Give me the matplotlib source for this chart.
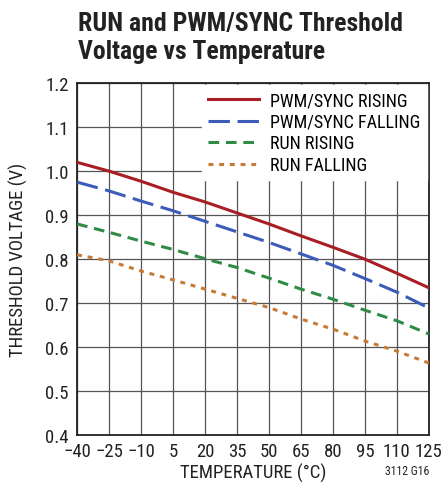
import matplotlib
matplotlib.use("Agg")
import matplotlib.pyplot as plt
from matplotlib import font_manager

temps = [-40, -25, -10, 5, 20, 35, 50, 65, 80, 95, 110, 125]
pwm_rising = [1.020, 1.000, 0.977, 0.952, 0.930, 0.905, 0.880, 0.853, 0.827, 0.800, 0.768, 0.735]
pwm_falling = [0.975, 0.955, 0.932, 0.910, 0.886, 0.862, 0.838, 0.812, 0.786, 0.756, 0.725, 0.689]
run_rising = [0.880, 0.861, 0.841, 0.822, 0.801, 0.781, 0.757, 0.732, 0.709, 0.684, 0.660, 0.630]
run_falling = [0.810, 0.796, 0.773, 0.753, 0.732, 0.711, 0.690, 0.664, 0.641, 0.614, 0.591, 0.564]
x_labels = ["\u221240", "\u221225", "\u221210", "5", "20", "35", "50", "65", "80", "95", "110", "125"]
y_ticks = [0.4, 0.5, 0.6, 0.7, 0.8, 0.9, 1.0, 1.1, 1.2]

# pick a condensed face if one is installed
names = {f.name for f in font_manager.fontManager.ttflist}
fam = "DejaVu Sans"
for cand in ["Roboto Condensed", "Archivo Narrow", "Liberation Sans Narrow", "Asap Condensed", "Barlow Condensed"]:
    if cand in names:
        fam = cand
        break
plt.rcParams['font.family'] = [fam, 'DejaVu Sans']

fig = plt.figure(figsize=(4.43, 4.89), dpi=100)
ax = fig.add_axes([0.174, 0.108, 0.794, 0.720])

grid_c = "#555555"
ax.plot(temps, pwm_rising, color="#a81e24", lw=2.2, label="PWM/SYNC RISING", zorder=3)
ax.plot(temps, pwm_falling, color="#3b5cb8", lw=2.2, dashes=(7, 2.5), label="PWM/SYNC FALLING", zorder=3)
ax.plot(temps, run_rising, color="#2f8b45", lw=2.2, dashes=(3.5, 2.2), label="RUN RISING", zorder=3)
ax.plot(temps, run_falling, color="#c77a35", lw=2.2, dashes=(1.6, 1.9), label="RUN FALLING", zorder=3)

ax.set_xlim(-40, 125)
ax.set_ylim(0.4, 1.2)
ax.set_xticks(temps)
ax.set_xticklabels(x_labels)
ax.set_yticks(y_ticks)
ax.set_yticklabels(["%.1f" % v for v in y_ticks])
ax.grid(True, color=grid_c, lw=0.9)
ax.set_axisbelow(True)
ax.tick_params(length=0, labelsize=13.5, colors="#222222")
ax.tick_params(axis="x", pad=5)
ax.tick_params(axis="y", pad=6)
for s in ax.spines.values():
    s.set_color("#222222")
    s.set_linewidth(1.3)

leg = ax.legend(loc="upper right", frameon=True, fontsize=13, handlelength=2.8,
                borderaxespad=0.1, labelspacing=0.2, handletextpad=0.65,
                borderpad=0.35, fancybox=False)
leg.get_frame().set_edgecolor("white")
leg.get_frame().set_facecolor("white")
leg.get_frame().set_alpha(1)

ax.set_xlabel("TEMPERATURE (\u00b0C)", fontsize=13.5, color="#222222", labelpad=2)
ax.set_ylabel("THRESHOLD VOLTAGE (V)", fontsize=13.5, color="#222222", labelpad=12)

fig.text(0.176, 0.922, "RUN and PWM/SYNC Threshold\nVoltage vs Temperature",
         fontsize=18.5, fontweight="bold", color="#222222", va="center", ha="left",
         linespacing=1.2)
fig.text(0.97, 0.022, "3112 G16", fontsize=8.5, color="#222222", ha="right", va="bottom")

fig.savefig("out.png", dpi=100)
